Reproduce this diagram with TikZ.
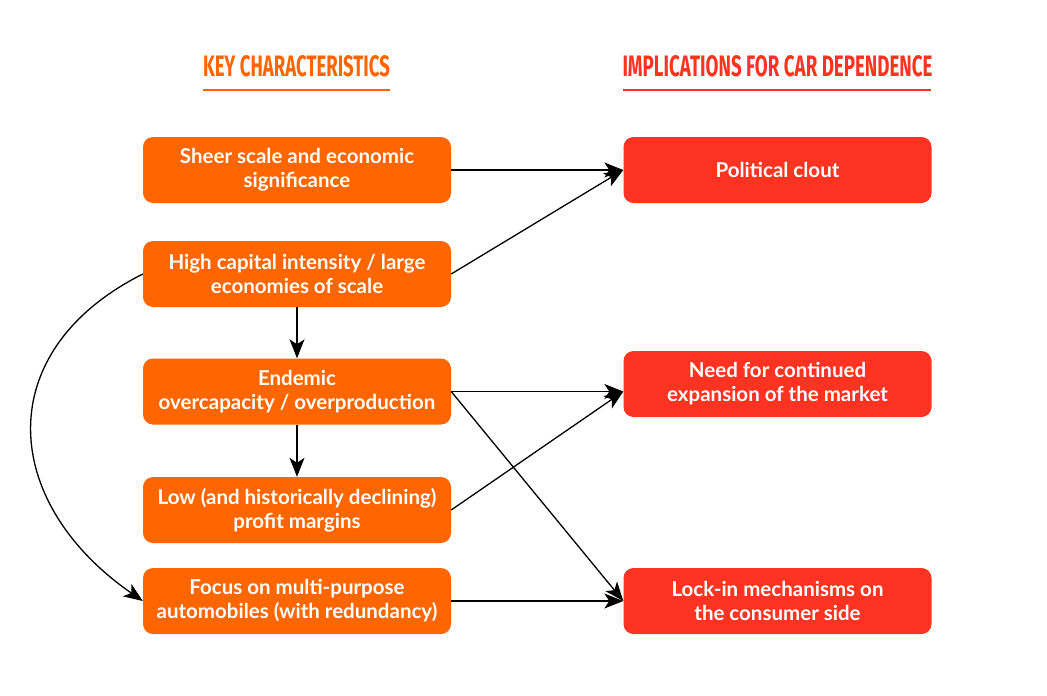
\documentclass[tikz,border=0pt]{standalone}
\usepackage{fontspec}
\setmainfont{Lato}
\newfontfamily\headfont{Fira Sans}
\usetikzlibrary{arrows.meta}
\definecolor{korange}{HTML}{FF6600}
\definecolor{kred}{HTML}{FF3322}
\begin{document}
\begin{tikzpicture}[x=1pt,y=-1pt,
  lbox/.style={fill=korange, rounded corners=10pt, minimum width=308pt, minimum height=66pt,
    text=white, align=center, inner sep=0pt, font=\fontsize{20.5}{24}\selectfont\bfseries},
  rbox/.style={lbox, fill=kred},
  conn/.style={draw=black, line width=1.3pt, -{Stealth[length=19pt,width=15pt,inset=5pt]}},
  head/.style={inner sep=0pt, anchor=south}]
\useasboundingbox (0,0) rectangle (1047,696);
% headers
\node[head, text=korange] (h1) at (296.5,77) {\resizebox{187pt}{21pt}{\headfont\bfseries KEY CHARACTERISTICS}};
\node[head, text=kred] (h2) at (777.5,77) {\resizebox{310pt}{21pt}{\headfont\bfseries IMPLICATIONS FOR CAR DEPENDENCE}};
\draw[korange, line width=2pt] (203,90) -- (390,90);
\draw[kred, line width=2pt] (623,90) -- (931,90);
% left boxes
\node[lbox] (L1) at (297,170) {Sheer scale and economic\\significance};
\node[lbox] (L2) at (297,274) {High capital intensity / large\\economies of scale};
\node[lbox] (L3) at (297,391.5) {Endemic\\overcapacity / overproduction};
\node[lbox] (L4) at (297,510) {Low (and historically declining)\\profit margins};
\node[lbox] (L5) at (297,601) {Focus on multi-purpose\\automobiles (with redundancy)};
% right boxes
\node[rbox] (R1) at (777.5,170) {Political clout};
\node[rbox] (R2) at (777.5,384) {Need for continued\\expansion of the market};
\node[rbox] (R3) at (777.5,601) {Lock-in mechanisms on\\the consumer side};
\coordinate (r2in) at (R2.west |- L3.east);
% connectors
\draw[conn] (L1.east) -- (R1.west);
\draw[conn] (L2.east) -- (R1.west);
\draw[conn] (L2.south) -- (L3.north);
\draw[conn] (L3.south) -- (L4.north);
\draw[conn] (L3.east) -- (r2in);
\draw[conn] (L4.east) -- (r2in);
\draw[conn] (L3.east) -- (R3.west);
\draw[conn] (L5.east) -- (R3.west);
\draw[conn] (L2.west) .. controls (-10,351) and (0,502) .. (L5.west);
\end{tikzpicture}
\end{document}
